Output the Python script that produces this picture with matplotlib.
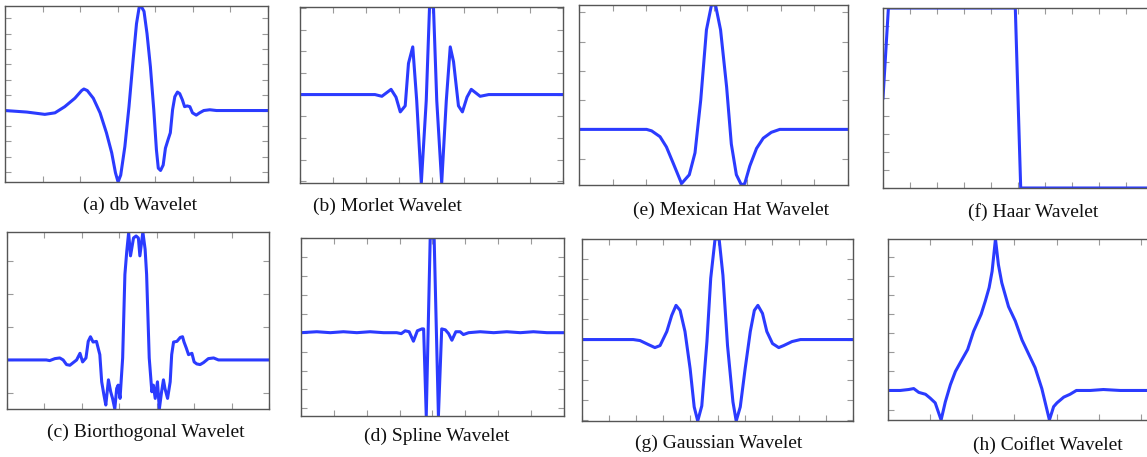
import matplotlib
matplotlib.use("Agg")
import matplotlib.pyplot as plt
from matplotlib.ticker import MultipleLocator

# (a) db wavelet
db_x = [0, 0.58, 1.06, 1.33, 1.59, 1.86, 2.04, 2.10, 2.19, 2.35, 2.53, 2.70, 2.84, 2.94, 3.01,
        3.08, 3.19, 3.30, 3.41, 3.50, 3.57, 3.62, 3.70, 3.78, 3.87, 3.96, 4.03, 4.08, 4.14,
        4.21, 4.27, 4.34, 4.40, 4.46, 4.52, 4.59, 4.65, 4.72, 4.78, 4.85, 4.92, 4.99, 5.09,
        5.18, 5.29, 5.45, 5.63, 7.0]
db_y = [0, -0.02, -0.05, -0.03, 0.05, 0.16, 0.26, 0.28, 0.26, 0.16, -0.03, -0.29, -0.55, -0.81,
        -0.93, -0.84, -0.47, 0.05, 0.66, 1.13, 1.34, 1.36, 1.29, 1.0, 0.57, 0.01, -0.51, -0.75,
        -0.78, -0.71, -0.49, -0.38, -0.29, 0.01, 0.18, 0.24, 0.22, 0.14, 0.05, 0.06, 0.05, -0.03,
        -0.06, -0.03, 0.0, 0.01, 0.0, 0]

# (b) morlet wavelet
morlet_x = [-4, -1.72, -1.51, -1.23, -1.08, -0.95, -0.80, -0.70, -0.57, -0.45, -0.31, -0.16, -0.06,
            0.06, 0.16, 0.31, 0.45, 0.57, 0.67, 0.82, 0.94, 1.08, 1.21, 1.48, 1.74, 4]
morlet_y = [0, 0, -0.02, 0.06, -0.03, -0.2, -0.13, 0.36, 0.55, -0.07, -1.02, -0.07, 1.01,
            1.01, -0.07, -1.02, -0.07, 0.55, 0.38, -0.13, -0.2, -0.03, 0.06, -0.02, 0, 0]

# (e) mexican hat wavelet
mexh_x = [-4, -1.99, -1.84, -1.59, -1.40, -1.20, -0.95, -0.72, -0.55, -0.38, -0.21, -0.06,
          0.06, 0.21, 0.39, 0.53, 0.68, 0.83, 0.93, 1.08, 1.28, 1.48, 1.72, 1.97, 4]
mexh_y = [0, 0, -0.01, -0.05, -0.12, -0.23, -0.37, -0.31, -0.16, 0.2, 0.68, 0.85,
          0.85, 0.68, 0.29, -0.10, -0.31, -0.38, -0.37, -0.25, -0.13, -0.06, -0.02, 0, 0]

# (f) haar wavelet
haar_x = [0, 0.02, 0.49, 0.51, 1.0]
haar_y = [0, 1, 1, -1, -1]

# (c) biorthogonal wavelet
bior_x = [0, 1.05, 1.14, 1.28, 1.41, 1.50, 1.59, 1.68, 1.77, 1.86, 1.95, 2.02, 2.11, 2.17, 2.23,
          2.30, 2.39, 2.48, 2.53, 2.59, 2.64, 2.71, 2.77, 2.82, 2.88, 2.93, 2.97, 3.02, 3.09,
          3.15, 3.20, 3.25, 3.30, 3.38, 3.45, 3.51, 3.55, 3.63, 3.69, 3.73, 3.80, 3.87, 3.91,
          3.96, 4.02, 4.07, 4.13, 4.18, 4.22, 4.29, 4.36, 4.40, 4.45, 4.54, 4.63, 4.69, 4.73,
          4.79, 4.85, 4.94, 5.0, 5.07, 5.16, 5.25, 5.38, 5.52, 5.65, 5.88, 7]
bior_y = [0, 0, -0.01, 0.02, 0.03, 0, -0.07, -0.08, -0.04, 0, 0.1, -0.03, 0.03, 0.28, 0.35,
          0.27, 0.28, 0.08, -0.33, -0.53, -0.68, -0.30, -0.48, -0.58, -0.74, -0.43, -0.38, -0.58,
          0.03, 1.29, 1.64, 1.92, 1.57, 1.84, 1.87, 1.84, 1.57, 1.93, 1.67, 1.29, 0.03, -0.48,
          -0.38, -0.58, -0.33, -0.74, -0.48, -0.30, -0.43, -0.58, -0.33, 0.08, 0.27, 0.28, 0.34,
          0.35, 0.27, 0.18, 0.08, 0.10, -0.03, -0.06, -0.07, -0.04, 0.02, 0.03, 0, 0, 0]

# (d) spline wavelet
spline_x = [-4, -3.52, -3.11, -2.71, -2.30, -1.90, -1.49, -1.09, -0.95, -0.83, -0.71, -0.58,
            -0.46, -0.32, -0.27, -0.19, -0.07, 0.05, 0.18, 0.28, 0.39, 0.49, 0.59, 0.71, 0.84,
            0.94, 1.10, 1.45, 1.86, 2.26, 2.67, 3.07, 3.48, 4]
spline_y = [0, 0.01, 0, 0.01, 0, 0.01, 0, 0, -0.01, 0.02, 0.01, -0.09,
            0.02, 0.04, 0.04, -0.88, 1.0, 1.0, -0.88, 0.04, 0.03, -0.01, -0.08, 0.01, 0.01,
            -0.02, 0, 0.01, 0, 0.01, 0, 0.01, 0, 0]

# (g) gaussian wavelet
gaus_x = [-5, -3.11, -2.86, -2.55, -2.31, -2.12, -1.87, -1.69, -1.53, -1.38, -1.20, -1.01, -0.86,
          -0.73, -0.58, -0.39, -0.25, -0.09, 0.06, 0.20, 0.37, 0.57, 0.69, 0.84, 1.02, 1.21,
          1.36, 1.49, 1.66, 1.82, 2.03, 2.26, 2.44, 2.75, 3.06, 5]
gaus_y = [0, 0, -0.01, -0.05, -0.08, -0.06, 0.08, 0.24, 0.34, 0.29, 0.08, -0.29, -0.67,
          -0.81, -0.66, -0.02, 0.61, 1.0, 1.0, 0.64, -0.06, -0.62, -0.81, -0.67, -0.29, 0.08,
          0.29, 0.34, 0.26, 0.08, -0.04, -0.08, -0.06, -0.02, 0, 0]

# (h) coiflet wavelet
coif_x = [0, 0.29, 0.49, 0.61, 0.73, 0.89, 1.0, 1.12, 1.26, 1.36, 1.48, 1.60, 1.75, 1.89, 2.03,
          2.21, 2.31, 2.40, 2.47, 2.55, 2.62, 2.70, 2.86, 3.02, 3.18, 3.34, 3.49, 3.65, 3.83,
          3.93, 4.01, 4.17, 4.32, 4.47, 4.80, 5.11, 5.51, 7]
coif_y = [0, 0, 0.01, 0.02, -0.02, -0.04, -0.08, -0.13, -0.31, -0.12, 0.06, 0.2, 0.32, 0.43,
          0.62, 0.80, 0.94, 1.08, 1.25, 1.59, 1.32, 1.13, 0.88, 0.73, 0.53, 0.38, 0.24, 0.02,
          -0.31, -0.17, -0.13, -0.07, -0.04, 0, 0, 0.01, 0, 0]

W, H = 1147, 457
fig = plt.figure(figsize=(W / 100, H / 100), dpi=100)

# each panel: data, pixel box (left, right, top, bottom), limits, tick steps, caption and its centre
panels = [
    (db_x, db_y, (5, 268, 6, 182), (0, 7), (-0.93, 1.36), 1, 0.2, "(a) db Wavelet", (140, 205)),
    (morlet_x, morlet_y, (300, 563, 7, 183), (-4, 4), (-1.02, 1.01), 1, 0.25, "(b) Morlet Wavelet", (387, 206)),
    (mexh_x, mexh_y, (579, 848, 5, 185), (-4, 4), (-0.38, 0.85), 1, 0.2, "(e) Mexican Hat Wavelet", (731, 210)),
    (haar_x, haar_y, (883, 1153, 8, 188), (0, 1), (-1, 1), 0.1, 0.2, "(f) Haar Wavelet", (1033, 212)),
    (bior_x, bior_y, (7, 269, 232, 409), (0, 7), (-0.74, 1.93), 1, 0.5, "(c) Biorthogonal Wavelet", (146, 432)),
    (spline_x, spline_y, (301, 564, 238, 416), (-4, 4), (-0.88, 1.0), 1, 0.2, "(d) Spline Wavelet", (437, 436)),
    (gaus_x, gaus_y, (582, 853, 239, 421), (-5, 5), (-0.81, 1.0), 1, 0.2, "(g) Gaussian Wavelet", (719, 443)),
    (coif_x, coif_y, (888, 1183, 239, 420), (0, 7), (-0.31, 1.59), 1, 0.2, "(h) Coiflet Wavelet", (1048, 445)),
]

for x, y, box, xl, yl, xs, ys, caption, cpos in panels:
    l, r, t, b = box
    ax = fig.add_axes([l / W, 1 - b / H, (r - l) / W, (b - t) / H])
    ax.plot(x, y, color="#2b3bff", lw=2.2, solid_joinstyle="round")
    ax.set_xlim(xl)
    ax.set_ylim(yl)
    ax.xaxis.set_major_locator(MultipleLocator(xs))
    ax.yaxis.set_major_locator(MultipleLocator(ys))
    ax.tick_params(direction="in", length=4.5, width=0.8, color="#9a9a9a",
                   top=True, right=True, labelbottom=False, labelleft=False)
    for s in ax.spines.values():
        s.set_color("#555555")
        s.set_linewidth(1.0)
    fig.text(cpos[0] / W, 1 - cpos[1] / H, caption, ha="center", va="center",
             fontsize=14, family="Liberation Serif", color="#111111")

fig.savefig("out.png", dpi=100)
